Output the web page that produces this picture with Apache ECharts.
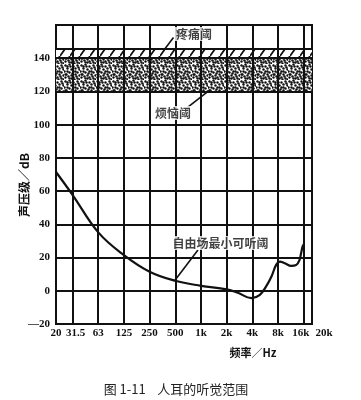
<!DOCTYPE html>
<html><head><meta charset="utf-8">
<script src="https://cdn.jsdelivr.net/npm/echarts@6/dist/echarts.min.js"></script>
<style>html,body{margin:0;padding:0;background:#fff}#c{width:361px;height:400px}</style>
</head><body><div id="c"></div>
<script>
// ---- data ----
const thresholdFreq = [20, 31.5, 63, 125, 250, 500, 1000, 2000, 2700, 3900, 4900, 5800, 6700, 7600, 8400, 9600, 11400, 13100, 14300, 14900, 15500, 16000];
const thresholdDb   = [71.5, 57.5, 35, 21.5, 11.5, 6, 3, 0.8, -1.2, -4.4, -2.4, 2.6, 8.6, 15.6, 17.6, 16.6, 15, 15.6, 18.6, 22.6, 26.6, 28];
const tickFreqs  = [20, 31.25, 62.5, 125, 250, 500, 1000, 2000, 4000, 8000, 16000, 20000];
const tickLabels = ['20', '31.5', '63', '125', '250', '500', '1k', '2k', '4k', '8k', '16k', '20k'];
const gridFreqs  = [31.25, 62.5, 125, 250, 500, 1000, 2000, 4000, 8000, 16000];
const annoyBand = [120, 140];
const painBand  = [140, 146];
const yTicks = {min: -20, max: 160, interval: 20};

const oct = f => Math.log2(f / 1000);
const XMIN = oct(20), XMAX = oct(20000);
const tickPos = tickFreqs.map(oct);

function stipple() {
  const c = document.createElement('canvas'); c.width = 16; c.height = 16;
  const g = c.getContext('2d'); g.fillStyle = '#fff'; g.fillRect(0, 0, 16, 16);
  g.fillStyle = '#111';
  const pts = [[1,1],[5,0],[9,2],[13,1],[3,4],[7,5],[11,4],[15,5],[0,7],[5,8],[9,7],[13,8],[2,10],[7,11],[11,10],[15,11],[1,13],[5,14],[9,13],[13,14],[3,2],[11,7],[6,2],[14,3],[8,9],[1,10],[12,12],[4,12],[10,15],[15,15],[7,14],[3,7]];
  pts.forEach(p => { g.beginPath(); g.arc(p[0] + .5, p[1] + .5, 1.2, 0, Math.PI * 2); g.fill(); });
  return c;
}
function hatch() {
  const w = 10, h = 14;
  const c = document.createElement('canvas'); c.width = w; c.height = h;
  const g = c.getContext('2d'); g.fillStyle = '#fff'; g.fillRect(0, 0, w, h);
  g.strokeStyle = '#111'; g.lineWidth = 1.8;
  g.beginPath(); g.moveTo(0, h); g.lineTo(w, 0);
  g.moveTo(-w, h); g.lineTo(0, 0); g.moveTo(w, h * 2); g.lineTo(w * 2, h); g.stroke();
  return c;
}

const labelFont = {fontFamily: 'Liberation Serif', fontWeight: 'bold', fontSize: 11, color: '#111'};
const cjk = 'Noto Sans CJK SC';

const chart = echarts.init(document.getElementById('c'), null, {renderer: 'canvas'});
chart.setOption({
  animation: false,
  backgroundColor: '#fff',
  grid: {left: 56, right: 49, top: 25, bottom: 76, show: true, borderColor: '#111', borderWidth: 2, backgroundColor: 'transparent'},
  xAxis: {
    type: 'value', min: XMIN, max: XMAX,
    splitLine: {show: false}, axisTick: {show: false},
    axisLine: {show: true, lineStyle: {color: '#111', width: 2}},
    axisLabel: Object.assign({}, labelFont, {
      margin: 4, showMinLabel: true, showMaxLabel: true,
      customValues: tickPos,
      formatter: v => {
        const i = tickPos.findIndex(p => Math.abs(p - v) < 1e-6);
        if (i < 0) return '';
        const t = tickLabels[i];
        if (t === '31.5') return '{l|' + t + '}';
        if (t === '16k') return '{r|' + t + '}';
        if (t === '20k') return '{ll|' + t + '}';
        return t;
      },
      rich: {
        l: Object.assign({}, labelFont, {padding: [0, 0, 0, 6]}),
        r: Object.assign({}, labelFont, {padding: [0, 6, 0, 0]}),
        ll: Object.assign({}, labelFont, {padding: [0, 0, 0, 24]})
      }
    })
  },
  yAxis: {
    type: 'value', min: yTicks.min, max: yTicks.max, interval: yTicks.interval,
    axisLine: {show: true, lineStyle: {color: '#111', width: 2}}, axisTick: {show: false},
    splitLine: {show: true, lineStyle: {color: '#111', width: 2}},
    axisLabel: Object.assign({}, labelFont, {margin: 6, formatter: v => v === 160 ? '' : (v === -20 ? '—20' : String(v))})
  },
  series: [
    {
      type: 'line', data: [], silent: true,
      markArea: {
        silent: true,
        data: [
          [{xAxis: XMIN, yAxis: annoyBand[0], itemStyle: {color: {image: stipple(), repeat: 'repeat'}}}, {xAxis: XMAX, yAxis: annoyBand[1]}],
          [{xAxis: XMIN, yAxis: painBand[0], itemStyle: {color: {image: hatch(), repeat: 'repeat'}}}, {xAxis: XMAX, yAxis: painBand[1]}]
        ]
      },
      markLine: {
        silent: true, symbol: 'none', label: {show: false},
        lineStyle: {color: '#111', width: 2, type: 'solid'},
        data: gridFreqs.map(f => ({xAxis: oct(f)})).concat([{yAxis: annoyBand[0]}, {yAxis: painBand[0]}, {yAxis: painBand[1]}])
      }
    },
    {
      type: 'line', smooth: 0.4, symbol: 'none', z: 6,
      lineStyle: {color: '#111', width: 2.2},
      data: thresholdFreq.map((f, i) => [oct(f), thresholdDb[i]])
    },
    {
      type: 'line', data: [], silent: true, z: 7,
      markLine: {
        silent: true, symbol: 'none', label: {show: false},
        lineStyle: {color: '#111', width: 1.6, type: 'solid'},
        data: [
          [{coord: [-1.41, 145.6]}, {coord: [-1.07, 152.5]}],
          [{coord: [-0.51, 110.6]}, {coord: [0.35, 120.9]}],
          [{coord: [-0.117, 24.6]}, {coord: [-1.02, 6.2]}]
        ]
      }
    },
    {
      type: 'scatter', symbolSize: 0, silent: true, z: 8,
      label: {show: true, position: 'inside', fontFamily: cjk, fontWeight: 'bold', fontSize: 12, color: '#111', backgroundColor: '#fff', padding: [1, 1], formatter: p => p.data[2]},
      data: [[-0.272, 154.6, '疼痛阈'], [-1.09, 107.0, '烦恼阈'], [0.76, 28.8, '自由场最小可听阈']]
    }
  ],
  graphic: [
    {type: 'text', x: 24, y: 185, rotation: Math.PI / 2, style: {text: '声压级／dB', font: 'bold 12px "Noto Sans CJK SC"', fill: '#111', textAlign: 'center', textVerticalAlign: 'middle'}},
    {type: 'text', x: 253, y: 353, style: {text: '频率／Hz', font: 'bold 11px "Noto Sans CJK SC"', fill: '#111', textAlign: 'center', textVerticalAlign: 'middle'}},
    {type: 'text', x: 176, y: 389, style: {text: '图 1-11    人耳的听觉范围', font: '13px "Noto Sans CJK SC"', fill: '#222', textAlign: 'center', textVerticalAlign: 'middle'}}
  ]
});
</script></body></html>
